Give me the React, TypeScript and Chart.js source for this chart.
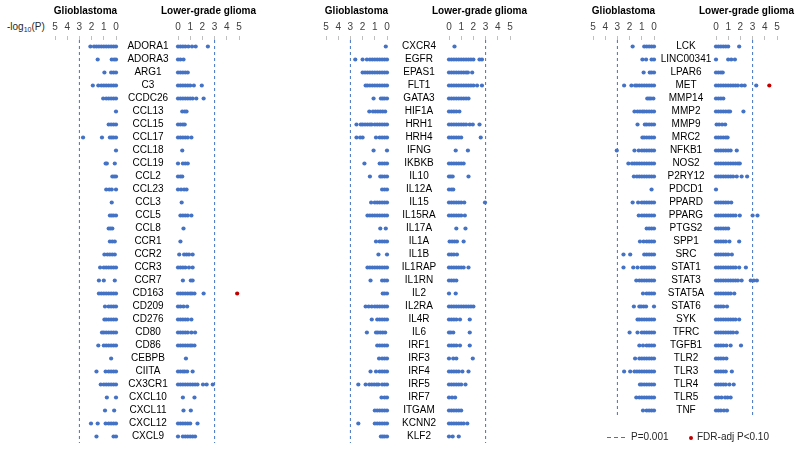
import React, { useEffect, useRef } from 'react';
import { Chart, registerables } from 'chart.js';

Chart.register(...registerables);

const FONT = "'Liberation Sans', Arial, Helvetica, sans-serif";
const BLUE = '#4472C4';
const RED = '#C00000';

// -log10(P) axis ticks and threshold
const TICK_VALUES = [0, 1, 2, 3, 4, 5];
const THRESHOLD_P = 0.001;
const THRESHOLD_LOGP = -Math.log10(THRESHOLD_P);

const GBM_TITLE = 'Glioblastoma';
const LGG_TITLE = 'Lower-grade glioma';

// ---------- Panel 1 ----------
const GENES_1 = ['ADORA1', 'ADORA3', 'ARG1', 'C3', 'CCDC26', 'CCL13', 'CCL15', 'CCL17', 'CCL18', 'CCL19', 'CCL2', 'CCL23', 'CCL3', 'CCL5', 'CCL8', 'CCR1', 'CCR2', 'CCR3', 'CCR7', 'CD163', 'CD209', 'CD276', 'CD80', 'CD86', 'CEBPB', 'CIITA', 'CX3CR1', 'CXCL10', 'CXCL11', 'CXCL12', 'CXCL9'];
const GBM_1 = [
  [0, .2, .4, .6, .8, 1, 1.2, 1.4, 1.6, 1.8, 2.1],
  [0, .15, .35, 1.5],
  [0, .2, .4, .95],
  [0, .2, .4, .6, .8, 1, 1.2, 1.45, 1.9],
  [0, .2, .4, .6, .8, 1.05],
  [0],
  [0, .2, .4, .6],
  [0, .2, .35, .5, 1.15, 2.7],
  [0],
  [.1, .75, .85],
  [0, .15, .3],
  [0, .35, .55, .8],
  [.35],
  [0, .2, .35, .5],
  [.3, .45, .6],
  [.1, .3, .5],
  [.1, .3, .5, .7, .95],
  [0, .2, .4, .6, .8, 1, 1.3],
  [.1, 1, 1.4],
  [0, .2, .4, .6, .8, 1, 1.2, 1.4],
  [0, .2, .4, .6, .9],
  [0, .2, .4, .6, .8, .95],
  [0, .2, .4, .6, .8, 1, 1.15],
  [0, .2, .4, .6, .8, 1, 1.45],
  [.4],
  [0, .2, .4, .6, .85, 1.6],
  [0, .2, .4, .6, .8, 1, 1.25],
  [0, .75],
  [.15, .9],
  [0, .2, .4, .6, .85, 1.5, 2.05],
  [0, .2, 1.6],
];
const LGG_1 = [
  [0, .2, .4, .6, .85, 1.15, 1.45, 2.45],
  [0, .2, .45],
  [0, .2, .4, .6, .8],
  [0, .2, .4, .6, .8, 1, 1.3, 1.95],
  [0, .2, .4, .6, .8, 1, 1.2, 1.5, 2.1],
  [.35, .55, .7],
  [0, .2, .4, .55],
  [0, .2, .4, .6, .8, 1.1],
  [.35],
  [0, .4, .6, .8],
  [0, .2, .35],
  [0, .25, .5, .7],
  [.3],
  [.2, .4, .6, .8, 1.1],
  [.45],
  [.2],
  [.1, .5, .7, .9, 1.2],
  [0, .2, .4, .6, .9, 1.2],
  [.4, 1.05, 1.2],
  [0, .2, .4, .6, .8, 1, 1.15, 1.35, 2.1],
  [0, .2, .45, .75],
  [0, .2, .4, .6, .8, 1.1],
  [0, .2, .4, .6, .8, 1.1, 1.4],
  [0, .2, .4, .6, .8, 1, 1.15, 1.35],
  [.65],
  [0, .2, .4, .55, .75, 1.2],
  [0, .2, .4, .6, .8, 1, 1.2, 1.4, 1.6, 2.05, 2.35, 2.85],
  [.4, 1.35],
  [.45, 1.05],
  [0, .2, .4, .6, .8, 1, 1.6],
  [0, .4, .6, .8, 1, 1.2, 1.4],
];
const FDR_GENES_1 = ['CD163'];
const FDR_LGG_1 = [4.85];

// ---------- Panel 2 ----------
const GENES_2 = ['CXCR4', 'EGFR', 'EPAS1', 'FLT1', 'GATA3', 'HIF1A', 'HRH1', 'HRH4', 'IFNG', 'IKBKB', 'IL10', 'IL12A', 'IL15', 'IL15RA', 'IL17A', 'IL1A', 'IL1B', 'IL1RAP', 'IL1RN', 'IL2', 'IL2RA', 'IL4R', 'IL6', 'IRF1', 'IRF3', 'IRF4', 'IRF5', 'IRF7', 'ITGAM', 'KCNN2', 'KLF2'];
const GBM_2 = [
  [.1],
  [0, .2, .4, .6, .8, 1, 1.2, 1.4, 1.65, 2, 2.6],
  [0, .2, .4, .6, .8, 1, 1.2, 1.4, 1.6, 1.8, 2],
  [0, .2, .4, .6, .8, 1, 1.2, 1.4, 1.6, 1.75],
  [0, .2, .35, .5, 1.1],
  [.15, .35, .55, .75, .95, 1.15, 1.45],
  [0, .2, .4, .6, .8, 1, 1.25, 1.4, 1.6, 1.8, 2, 2.15, 2.5],
  [0, .2, .4, .6, .9, 2, 2.2, 2.5],
  [0, 1.1],
  [0, .2, .4, .6, 1.85],
  [0, .2, .4, .55, 1.4],
  [0, .2, .4],
  [0, .2, .4, .6, .8, 1, 1.3],
  [0, .2, .4, .6, .8, 1, 1.2, 1.4, 1.6],
  [.1, .55],
  [0, .2, .4, .6, .9],
  [0, .7],
  [0, .2, .4, .6, .8, 1, 1.2, 1.4, 1.6],
  [0, .2, .4, 1.35],
  [0, .2, .35],
  [0, .2, .4, .6, .8, 1, 1.25, 1.5, 1.75],
  [0, .2, .4, .6, .8, 1.25],
  [.15, .35, .55, .75, .9, 1.65],
  [0, .2, .4, .6, .8],
  [0, .2, .4, .65],
  [0, .2, .4, .6, .9, 1.35],
  [0, .2, .4, .7, .85, 1.05, 1.25, 1.45, 1.75, 2.35],
  [0, .2, .45],
  [0, .2, .4, .6, .8, 1],
  [0, .2, .4, .6, .8, 1, 2.35],
  [0, .2, .35, .5],
];
const LGG_2 = [
  [.45],
  [0, .2, .4, .6, .8, 1, 1.2, 1.4, 1.6, 1.8, 2, 2.5, 2.7],
  [0, .2, .4, .6, .8, 1, 1.2, 1.4, 1.55, 1.9],
  [0, .2, .4, .6, .8, 1, 1.2, 1.4, 1.6, 1.8, 2, 2.3, 2.7],
  [0, .2, .4, .6, .8, 1, 1.2, 1.4, 1.6],
  [0, .2, .4, .6, .85],
  [0, .2, .4, .6, .8, 1, 1.2, 1.4, 1.7, 1.95, 2.5],
  [0, .2, .4, .6, .8, 1, 2.6],
  [.55, 1.55],
  [0, .2, .4, .6, .8, 1, 1.2],
  [0, .15, .3, 1.6],
  [0, .2, .35],
  [0, .2, .4, .6, .8, 1, 1.25, 2.95],
  [0, .2, .4, .6, .8, 1, 1.3],
  [.6, 1.35],
  [.05, .25, .45, .65, 1.2],
  [0, .2, .4, .65],
  [0, .2, .4, .6, .8, 1, 1.2, 1.6],
  [0, .2, .4, .6],
  [0, .55],
  [0, .2, .4, .6, .8, 1, 1.2, 1.4, 1.6, 1.8, 2],
  [0, .2, .4, .6, .9, 1.7],
  [0, .15, .35, 1.7],
  [0, .2, .4, .6, .9, 1.7],
  [0, .35, .6, 1.95],
  [0, .2, .4, .6, .8, 1.1, 1.6],
  [0, .2, .4, .6, .8, 1, 1.35],
  [0, .25, .5],
  [0, .2, .4, .6, .8, 1],
  [0, .2, .4, .6, .8, 1, 1.2, 1.5],
  [0, .3, .8],
];
const FDR_GENES_2: string[] = [];
const FDR_LGG_2: number[] = [];

// ---------- Panel 3 ----------
const GENES_3 = ['LCK', 'LINC00341', 'LPAR6', 'MET', 'MMP14', 'MMP2', 'MMP9', 'MRC2', 'NFKB1', 'NOS2', 'P2RY12', 'PDCD1', 'PPARD', 'PPARG', 'PTGS2', 'SPP1', 'SRC', 'STAT1', 'STAT3', 'STAT5A', 'STAT6', 'SYK', 'TFRC', 'TGFB1', 'TLR2', 'TLR3', 'TLR4', 'TLR5', 'TNF'];
const GBM_3 = [
  [0, .2, .4, .6, .8, 1.75],
  [0, .2, .65, .95],
  [0, .2, .35, .85],
  [0, .2, .4, .6, .8, 1, 1.2, 1.4, 1.55, 1.85, 2.45],
  [.05, .25, .4, .55],
  [0, .2, .4, .6, .8, .95, 1.15, 1.35, 1.6],
  [0, .2, .4, .6, .75, 1.35],
  [0, .2, .4, .6, .8, .95],
  [0, .2, .4, .6, .8, 1, 1.25, 1.6, 3.05],
  [0, .2, .4, .6, .8, 1, 1.2, 1.4, 1.6, 1.8, 2.1],
  [0, .2, .4, .6, .8, 1, 1.2, 1.4, 1.65],
  [.2],
  [0, .2, .4, .6, .8, 1, 1.3, 1.75],
  [0, .2, .4, .6, .8, 1, 1.25],
  [0, .2, .4, .6],
  [0, .2, .4, .6, .85, 1.15],
  [0, .2, .4, .6, .8, 1.95, 2.5],
  [0, .2, .4, .6, .8, 1, 1.35, 1.7, 2.5],
  [0, .2, .4, .6, .8, 1, 1.2, 1.45],
  [0, .2, .4, .6, .9],
  [0, .65, .85, 1.05, 1.2, 1.65],
  [0, .2, .4, .6, .8, 1, 1.2, 1.35],
  [0, .2, .4, .6, .8, 1, 1.35, 2],
  [0, .2, .4, .6, .9, 1.2],
  [0, .2, .4, .6, .8, 1, 1.2, 1.55],
  [0, .2, .4, .6, .8, 1, 1.2, 1.4, 1.6, 1.95, 2.45],
  [0, .2, .4, .6, .8, 1, 1.15],
  [0, .2, .4, .6, .8, 1, 1.2, 1.45],
  [0, .2, .4, .6, .9],
];
const LGG_3 = [
  [0, .2, .4, .6, .8, 1, 1.9],
  [0, 1, 1.25, 1.55],
  [0, .2, .4, .55],
  [0, .2, .4, .6, .8, 1, 1.2, 1.4, 1.6, 1.8, 2.1, 2.35, 3.3],
  [0, .2, .4, .6],
  [0, .2, .4, .6, .8, 1, 1.15, 2.25],
  [.05, .25, .5, .75],
  [0, .2, .4, .6, .8, .95],
  [0, .2, .4, .6, .8, 1, 1.2, 1.7],
  [0, .2, .4, .6, .8, 1, 1.2, 1.4, 1.6, 1.8, 1.95],
  [0, .2, .4, .6, .8, 1, 1.2, 1.4, 1.7, 2.1, 2.55],
  [0],
  [0, .2, .4, .6, .8, 1, 1.25],
  [0, .2, .4, .6, .8, 1, 1.2, 1.4, 1.6, 1.95, 3, 3.4],
  [0, .2, .4, .6, .8, 1],
  [0, .2, .4, .6, .8, 1.1, 1.9],
  [0, .2, .4, .6, .8, 1, 1.3],
  [0, .2, .4, .6, .8, 1, 1.2, 1.4, 1.6, 1.9, 2.45],
  [0, .2, .4, .6, .8, 1, 1.2, 1.4, 1.6, 1.8, 2.1, 2.85, 3.1, 3.35],
  [0, .2, .4, .6, .8, 1, 1.2, 1.5],
  [0, .2, .4, .6, .9],
  [0, .2, .4, .6, .8, 1, 1.2, 1.4, 1.6, 1.9],
  [0, .2, .4, .6, .8, 1, 1.2, 1.4, 1.7],
  [0, .2, .4, .6, .85, 1.2, 2.05],
  [0, .2, .4, .6, .85],
  [0, .2, .4, .6, .8, 1.3],
  [0, .2, .4, .6, .8, 1.1, 1.45],
  [0, .2, .45, .75, .95, 1.2],
  [0, .2, .4, .65, .9],
];
const FDR_GENES_3 = ['MET'];
const FDR_LGG_3 = [4.37];

// ---------- layout constants ----------
const H = 451;
const AXIS_LEN = 61;       // px for 0..5
const AXIS_H = 40;         // top axis height
const ROW_H = 13;
const GBM_ZERO = [116, 387, 654];
const GAP = 61.5;          // GBM zero -> LGG zero
const SIDE_PAD = 24;
const LABEL_ROOM = 72;
const LABEL_OFFSET = 30;
const TITLE_Y = 11;

type SideProps = {
  side: 'gbm' | 'lgg';
  genes: string[];
  values: number[][];
  fdrGenes: string[];
  fdrValues: number[];
  zero: number;
};

function SideChart({ side, genes, values, fdrGenes, fdrValues, zero }: SideProps) {
  const ref = useRef<HTMLCanvasElement>(null);
  const isGbm = side === 'gbm';
  const padL = isGbm ? SIDE_PAD : LABEL_ROOM;
  const padR = SIDE_PAD;
  const left = isGbm ? zero - AXIS_LEN - padL : zero - padL;
  const width = AXIS_LEN + padL + padR;

  useEffect(() => {
    if (!ref.current) return;
    const n = genes.length;
    const pts = values.flatMap((arr, i) => arr.map((v) => ({ x: v, y: i })));
    const red = fdrGenes.map((g, k) => ({ x: fdrValues[k], y: genes.indexOf(g) }));
    const textPlugin = {
      id: 'panelText',
      afterDraw(chart: any) {
        const { ctx, chartArea, scales } = chart;
        ctx.save();
        // panel title
        ctx.font = `bold 10px ${FONT}`;
        ctx.fillStyle = '#000';
        ctx.textAlign = 'center';
        ctx.textBaseline = 'middle';
        ctx.fillText(isGbm ? GBM_TITLE : LGG_TITLE, (chartArea.left + chartArea.right) / 2, TITLE_Y);
        // gene names
        if (!isGbm) {
          ctx.font = `10px ${FONT}`;
          genes.forEach((g, i) => {
            ctx.fillText(g, chartArea.left - LABEL_OFFSET, scales.y.getPixelForValue(i));
          });
        }
        ctx.restore();
      },
    };
    const chart = new Chart(ref.current, {
      type: 'scatter',
      data: {
        datasets: [
          {
            data: red,
            backgroundColor: RED,
            borderWidth: 0,
            pointRadius: 2.1,
            clip: false as any,
          },
          {
            data: pts,
            backgroundColor: BLUE,
            borderWidth: 0,
            pointRadius: 2.1,
            clip: false as any,
          },
          {
            data: [
              { x: THRESHOLD_LOGP, y: -0.5 },
              { x: THRESHOLD_LOGP, y: n - 0.5 },
            ],
            showLine: true,
            borderColor: BLUE,
            borderWidth: 1,
            borderDash: [3, 3],
            pointRadius: 0,
            clip: false as any,
          },
        ],
      },
      options: {
        animation: false,
        responsive: false,
        maintainAspectRatio: false,
        events: [],
        layout: {
          padding: { left: padL, right: padR, top: 0, bottom: H - AXIS_H - ROW_H * n },
        },
        plugins: { legend: { display: false }, tooltip: { enabled: false } },
        scales: {
          x: {
            type: 'linear',
            position: 'top',
            min: TICK_VALUES[0],
            max: TICK_VALUES[TICK_VALUES.length - 1],
            reverse: isGbm,
            afterFit: (s: any) => {
              s.height = AXIS_H;
            },
            afterBuildTicks: (s: any) => {
              s.ticks = TICK_VALUES.map((v) => ({ value: v }));
            },
            ticks: {
              font: { family: FONT, size: 10 },
              color: '#404040',
              padding: 3,
              autoSkip: false,
              maxRotation: 0,
            },
            grid: {
              drawOnChartArea: false,
              drawTicks: true,
              tickLength: 4,
              color: '#BFBFBF',
            },
            border: { display: false },
            title: { display: false },
          },
          y: {
            type: 'linear',
            min: -0.5,
            max: n - 0.5,
            reverse: true,
            display: false,
          },
        },
      },
      plugins: [textPlugin],
    } as any);
    return () => chart.destroy();
  }, []);

  return (
    <canvas
      ref={ref}
      width={width}
      height={H}
      style={{ position: 'absolute', left, top: 0, width, height: H }}
    />
  );
}

const PANELS = [
  { genes: GENES_1, gbm: GBM_1, lgg: LGG_1, fdrGenes: FDR_GENES_1, fdrLgg: FDR_LGG_1 },
  { genes: GENES_2, gbm: GBM_2, lgg: LGG_2, fdrGenes: FDR_GENES_2, fdrLgg: FDR_LGG_2 },
  { genes: GENES_3, gbm: GBM_3, lgg: LGG_3, fdrGenes: FDR_GENES_3, fdrLgg: FDR_LGG_3 },
];

export default function App() {
  const textStyle: React.CSSProperties = {
    position: 'absolute',
    fontFamily: FONT,
    fontSize: 10,
    color: '#262626',
    lineHeight: '12px',
    whiteSpace: 'nowrap',
  };
  return (
    <div
      style={{
        position: 'fixed',
        left: 0,
        top: 0,
        width: 800,
        height: H,
        background: '#fff',
        overflow: 'hidden',
      }}
    >
      <div style={{ ...textStyle, left: 7, top: 21 }}>
        -log<span style={{ fontSize: 7, position: 'relative', top: 2 }}>10</span>(P)
      </div>
      {PANELS.map((p, k) => (
        <React.Fragment key={k}>
          <SideChart side="gbm" genes={p.genes} values={p.gbm} fdrGenes={[]} fdrValues={[]} zero={GBM_ZERO[k]} />
          <SideChart
            side="lgg"
            genes={p.genes}
            values={p.lgg}
            fdrGenes={p.fdrGenes}
            fdrValues={p.fdrLgg}
            zero={GBM_ZERO[k] + GAP}
          />
        </React.Fragment>
      ))}
      {/* legend */}
      <div
        style={{
          position: 'absolute',
          left: 607,
          top: 437,
          width: 21,
          height: 1,
          backgroundImage: `repeating-linear-gradient(to right, ${BLUE} 0 4px, transparent 4px 7px)`,
        }}
      />
      <div style={{ ...textStyle, left: 631, top: 431 }}>P=0.001</div>
      <div
        style={{
          position: 'absolute',
          left: 689,
          top: 435.5,
          width: 4,
          height: 4,
          borderRadius: 2,
          background: RED,
        }}
      />
      <div style={{ ...textStyle, left: 697, top: 431 }}>FDR-adj P&lt;0.10</div>
    </div>
  );
}
